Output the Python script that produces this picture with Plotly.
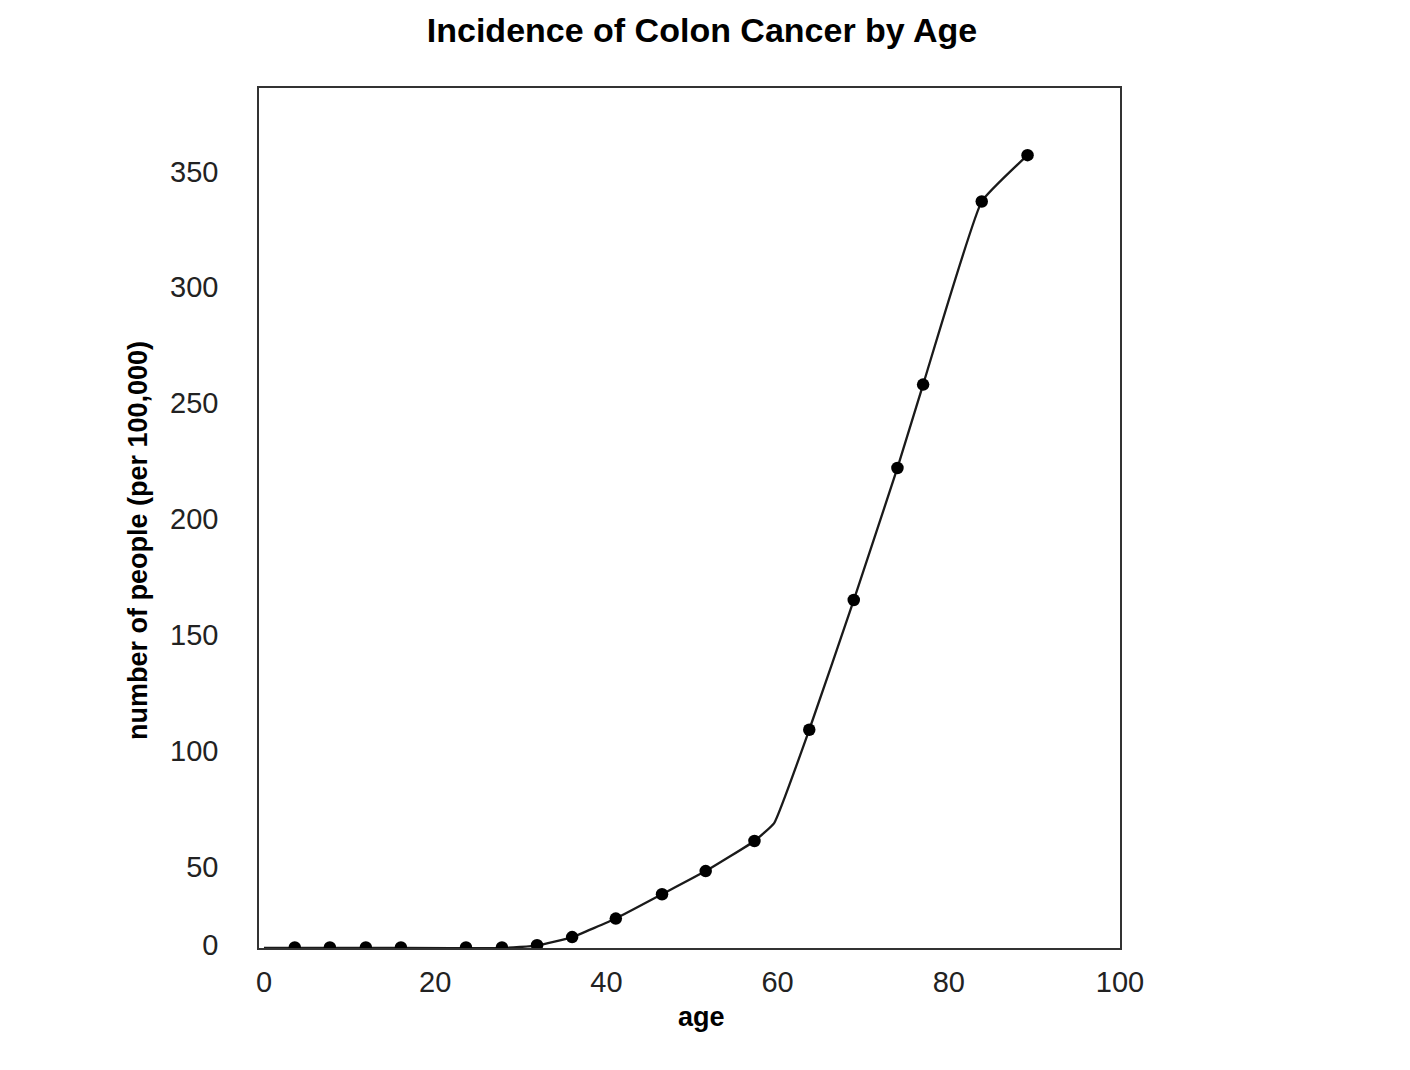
import plotly.graph_objects as go

# ---- data ----
ages = [3.6, 7.7, 11.9, 16.0, 23.6, 27.8, 31.9, 36.0, 41.1, 46.5, 51.6, 57.3,
        63.7, 68.9, 74.0, 77.0, 83.85, 89.2]
incidence = [15, 15, 15, 15, 15, 15, 16, 19.5, 27.5, 38, 48, 61,
             109, 165, 222, 258, 337, 357]

# fitted curve knots drawn under the points
curve_ages = [0, 3.6, 16.0, 27.8, 31.9, 36.0, 41.1, 46.5, 51.6, 57.3, 59.6,
              63.7, 68.9, 74.0, 77.0, 83.85, 89.2]
curve_vals = [14.8, 14.8, 14.8, 14.8, 15.8, 19.5, 27.5, 38, 48, 61, 68.7,
              109, 165, 222, 258, 337, 357]

y_tick_vals = [16.2, 50, 100, 150, 200, 250, 300, 350]
y_tick_text = ["0", "50", "100", "150", "200", "250", "300", "350"]
x_tick_vals = [0, 20, 40, 60, 80, 100]
x_tick_text = ["0", "20", "40", "60", "80", "100"]

FONT = "Liberation Sans, Arial, sans-serif"

# page offset (browser body margin)
OFF = 8
L, T = 259 - OFF, 88 - OFF
PW, PH = 861, 860
W, H = 1410, 1070

fig = go.Figure()
fig.add_trace(go.Scatter(
    x=curve_ages, y=curve_vals, mode="lines",
    line=dict(color="#1a1a1a", width=2.3, shape="spline", smoothing=0.35),
    hoverinfo="skip", showlegend=False))
fig.add_trace(go.Scatter(
    x=ages, y=incidence, mode="markers",
    marker=dict(color="black", size=12.5),
    showlegend=False))

fig.update_layout(
    width=W, height=H,
    paper_bgcolor="white", plot_bgcolor="white",
    margin=dict(l=L, r=W - L - PW, t=T, b=H - T - PH),
    title=dict(text="<b>Incidence of Colon Cancer by Age</b>",
               x=(702 - OFF) / W, xanchor="center", y=1 - (30 - OFF) / H, yanchor="middle",
               font=dict(family=FONT, size=34, color="black")),
    font=dict(family=FONT, size=29, color="#222"),
)
fig.update_xaxes(
    range=[-0.58, 100.0], tickvals=x_tick_vals, ticktext=x_tick_text,
    showgrid=False, zeroline=False, showline=True, mirror=True,
    linecolor="#333", linewidth=1.5, ticks="", ticklabelstandoff=7,
    tickfont=dict(family=FONT, size=29, color="#222"))
fig.update_yaxes(
    range=[14.8, 386.0], tickvals=y_tick_vals, ticktext=y_tick_text,
    showgrid=False, zeroline=False, showline=True, mirror=True,
    linecolor="#333", linewidth=1.5, ticks="", ticklabelstandoff=33,
    tickfont=dict(family=FONT, size=29, color="#222"))

fig.add_annotation(text="<b>age</b>", xref="paper", yref="paper",
                   x=(701 - 259) / PW, y=-(1017 - 948) / PH,
                   xanchor="center", yanchor="middle", showarrow=False,
                   font=dict(family=FONT, size=27, color="black"))
fig.add_annotation(text="<b>number of people (per 100,000)</b>", xref="paper", yref="paper",
                   x=-(259 - 138) / PW, y=(948 - 541) / PH,
                   xanchor="center", yanchor="middle", textangle=-90, showarrow=False,
                   font=dict(family=FONT, size=27, color="black"))

fig.write_html("out.html")
